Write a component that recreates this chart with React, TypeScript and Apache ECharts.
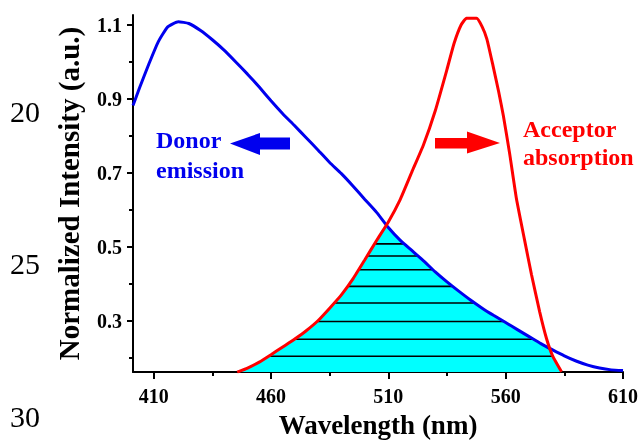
import React, { useEffect, useRef } from "react";
import * as echarts from "echarts";

// ---- Data ----
const donorWavelength = [401.2, 404, 408, 412, 416, 420.5, 425, 430, 435, 440, 445, 450, 455, 460, 465, 470, 475, 480, 485, 490, 495, 500, 505, 510, 515, 520, 525, 530, 535, 540, 545, 550, 555, 560, 565, 570, 575, 580, 585, 590, 595, 600, 605, 610];
const donorIntensity = [0.882, 0.93, 0.995, 1.055, 1.095, 1.109, 1.104, 1.085, 1.06, 1.032, 1.0, 0.967, 0.932, 0.895, 0.86, 0.828, 0.795, 0.762, 0.728, 0.698, 0.664, 0.628, 0.593, 0.552, 0.518, 0.49, 0.462, 0.432, 0.405, 0.38, 0.356, 0.334, 0.314, 0.295, 0.276, 0.257, 0.238, 0.221, 0.205, 0.191, 0.18, 0.172, 0.167, 0.165];

const acceptorWavelength = [445.6, 450, 455, 460, 465, 470, 475, 480, 485, 490, 495, 500, 505, 510, 515, 520, 525, 530, 535, 538, 541, 543.3, 547.6, 550, 552, 554.6, 557, 559, 561.7, 564.6, 568, 571, 574.5, 577.4, 580, 583.8];
const acceptorIntensity = [0.161, 0.172, 0.188, 0.208, 0.229, 0.25, 0.273, 0.3, 0.334, 0.37, 0.414, 0.465, 0.517, 0.567, 0.627, 0.702, 0.776, 0.868, 0.98, 1.05, 1.1, 1.118, 1.118, 1.095, 1.062, 0.99, 0.92, 0.855, 0.752, 0.63, 0.52, 0.425, 0.324, 0.252, 0.205, 0.162];

const hatchLevels = [0.204, 0.25, 0.298, 0.348, 0.393, 0.438, 0.475, 0.508];

const xMajorTicks = [410, 460, 510, 560, 610];
const xMinorTicks = [435, 485, 535, 585];
const yMajorTicks = [0.3, 0.5, 0.7, 0.9, 1.1];
const yMinorTicks = [0.2, 0.4, 0.6, 0.8, 1.0];

const xTitle = "Wavelength (nm)";
const yTitle = "Normalized Intensity (a.u.)";
const donorLabel = ["Donor", "emission"];
const acceptorLabel = ["Acceptor", "absorption"];
const lineNumbers = ["20", "25", "30"];

const X_MIN = 401.2;
const X_MAX = 610;
const Y_MIN = 0.161;
const Y_MAX = 1.127;

function interp(xs: number[], ys: number[], x: number): number | null {
  if (x < xs[0] || x > xs[xs.length - 1]) return null;
  for (let i = 0; i < xs.length - 1; i++) {
    if (x >= xs[i] && x <= xs[i + 1]) {
      const t = (x - xs[i]) / (xs[i + 1] - xs[i] || 1);
      return ys[i] + t * (ys[i + 1] - ys[i]);
    }
  }
  return ys[ys.length - 1];
}

function buildOverlap(): number[][] {
  const lo = acceptorWavelength[0];
  const hi = acceptorWavelength[acceptorWavelength.length - 1];
  const xsSet = new Set<number>();
  [...donorWavelength, ...acceptorWavelength].forEach((x) => {
    if (x >= lo && x <= hi) xsSet.add(x);
  });
  const xs = Array.from(xsSet).sort((a, b) => a - b);
  const pts: number[][] = [];
  for (let i = 0; i < xs.length; i++) {
    const x = xs[i];
    const d = interp(donorWavelength, donorIntensity, x)!;
    const a = interp(acceptorWavelength, acceptorIntensity, x)!;
    if (i > 0) {
      const px = xs[i - 1];
      const pd = interp(donorWavelength, donorIntensity, px)!;
      const pa = interp(acceptorWavelength, acceptorIntensity, px)!;
      const s0 = pd - pa;
      const s1 = d - a;
      if (s0 * s1 < 0) {
        const t = s0 / (s0 - s1);
        const cx = px + t * (x - px);
        pts.push([cx, pd + t * (d - pd)]);
      }
    }
    pts.push([x, Math.min(d, a)]);
  }
  return pts;
}

function hatchSegment(poly: number[][], level: number): number[][] | null {
  let left: number | null = null;
  let right: number | null = null;
  for (let i = 0; i < poly.length - 1; i++) {
    const [x0, y0] = poly[i];
    const [x1, y1] = poly[i + 1];
    if ((y0 - level) * (y1 - level) <= 0 && y0 !== y1) {
      const cx = x0 + ((level - y0) / (y1 - y0)) * (x1 - x0);
      if (y1 > y0 && left === null) left = cx;
      if (y1 < y0) right = cx;
    }
  }
  if (left === null || right === null) return null;
  return [
    [left, level],
    [right, level],
  ];
}

const SERIF = "'Liberation Serif', 'Times New Roman', serif";

export default function App() {
  const ref = useRef<HTMLDivElement>(null);

  useEffect(() => {
    if (!ref.current) return;
    const chart = echarts.init(ref.current, undefined, { renderer: "svg" });
    const overlap = buildOverlap();
    const hatchSeries = hatchLevels
      .map((lvl) => hatchSegment(overlap, lvl))
      .filter((s) => s !== null)
      .map((seg) => ({
        type: "line",
        data: seg,
        symbol: "none",
        lineStyle: { color: "#000", width: 1.6 },
        z: 3,
        silent: true,
      }));

    const axisLabelStyle = {
      color: "#000",
      fontFamily: SERIF,
      fontWeight: "bold" as const,
      fontSize: 20,
    };

    chart.setOption({
      animation: false,
      grid: { left: 133, right: 18, top: 15, bottom: 69, containLabel: false },
      xAxis: [
        {
          type: "value",
          position: "bottom",
          min: X_MIN,
          max: X_MAX,
          axisLine: { show: true, lineStyle: { color: "#000", width: 2 } },
          axisTick: { show: true, customValues: xMajorTicks, length: 7, lineStyle: { color: "#000", width: 2 } },
          axisLabel: { ...axisLabelStyle, customValues: xMajorTicks, margin: 14, formatter: (v: number) => String(Math.round(v)) },
          splitLine: { show: false },
          name: xTitle,
          nameLocation: "middle",
          nameGap: 35,
          nameTextStyle: { color: "#000", fontFamily: SERIF, fontWeight: "bold", fontSize: 27 },
        },
        {
          type: "value",
          position: "bottom",
          min: X_MIN,
          max: X_MAX,
          axisLine: { show: false },
          axisTick: { show: true, customValues: xMinorTicks, length: 4, lineStyle: { color: "#000", width: 2 } },
          axisLabel: { show: false },
          splitLine: { show: false },
        },
      ],
      yAxis: [
        {
          type: "value",
          position: "left",
          min: Y_MIN,
          max: Y_MAX,
          axisLine: { show: true, lineStyle: { color: "#000", width: 2 } },
          axisTick: { show: true, customValues: yMajorTicks, length: 6, lineStyle: { color: "#000", width: 2 } },
          axisLabel: { ...axisLabelStyle, customValues: yMajorTicks, margin: 11, formatter: (v: number) => v.toFixed(1) },
          splitLine: { show: false },
          name: yTitle,
          nameLocation: "middle",
          nameGap: 50,
          nameRotate: 90,
          nameTextStyle: { color: "#000", fontFamily: SERIF, fontWeight: "bold", fontSize: 29 },
        },
        {
          type: "value",
          position: "left",
          min: Y_MIN,
          max: Y_MAX,
          axisLine: { show: false },
          axisTick: { show: true, customValues: yMinorTicks, length: 4, lineStyle: { color: "#000", width: 2 } },
          axisLabel: { show: false },
          splitLine: { show: false },
        },
      ],
      series: [
        {
          type: "line",
          data: overlap,
          symbol: "none",
          lineStyle: { width: 0 },
          areaStyle: { color: "#00FFFF", opacity: 1, origin: "start" },
          z: 1,
          silent: true,
        },
        ...hatchSeries,
        {
          type: "line",
          name: "Donor emission",
          data: donorWavelength.map((x, i) => [x, donorIntensity[i]]),
          symbol: "none",
          smooth: 0.15,
          lineStyle: { color: "#0000EE", width: 3 },
          z: 5,
        },
        {
          type: "line",
          name: "Acceptor absorption",
          data: acceptorWavelength.map((x, i) => [x, acceptorIntensity[i]]),
          symbol: "none",
          smooth: 0.15,
          lineStyle: { color: "#FF0000", width: 3 },
          z: 5,
        },
      ],
      graphic: [
        ...lineNumbers.map((t, i) => ({
          type: "text",
          left: 10,
          top: [96, 248, 401][i],
          style: { text: t, fill: "#000", font: `30px ${SERIF}` },
        })),
        {
          type: "text",
          x: 156,
          y: 140,
          style: { text: donorLabel[0], fill: "#0000EE", font: `bold 24px ${SERIF}`, verticalAlign: "middle" },
        },
        {
          type: "text",
          x: 156,
          y: 170,
          style: { text: donorLabel[1], fill: "#0000EE", font: `bold 24px ${SERIF}`, verticalAlign: "middle" },
        },
        {
          type: "text",
          x: 523,
          y: 129,
          style: { text: acceptorLabel[0], fill: "#FF0000", font: `bold 24px ${SERIF}`, verticalAlign: "middle" },
        },
        {
          type: "text",
          x: 523,
          y: 157,
          style: { text: acceptorLabel[1], fill: "#FF0000", font: `bold 24px ${SERIF}`, verticalAlign: "middle" },
        },
        {
          type: "polygon",
          shape: {
            points: [
              [230, 143.5],
              [260, 133],
              [260, 137.5],
              [290, 137.5],
              [290, 149.5],
              [260, 149.5],
              [260, 155],
            ],
          },
          style: { fill: "#0000EE" },
        },
        {
          type: "polygon",
          shape: {
            points: [
              [500, 143],
              [467, 131.5],
              [467, 138],
              [435, 138],
              [435, 148.5],
              [467, 148.5],
              [467, 153.5],
            ],
          },
          style: { fill: "#FF0000" },
        },
      ],
    });
    return () => chart.dispose();
  }, []);

  return <div ref={ref} style={{ position: "fixed", left: 0, top: 0, width: 641, height: 443 }} />;
}
